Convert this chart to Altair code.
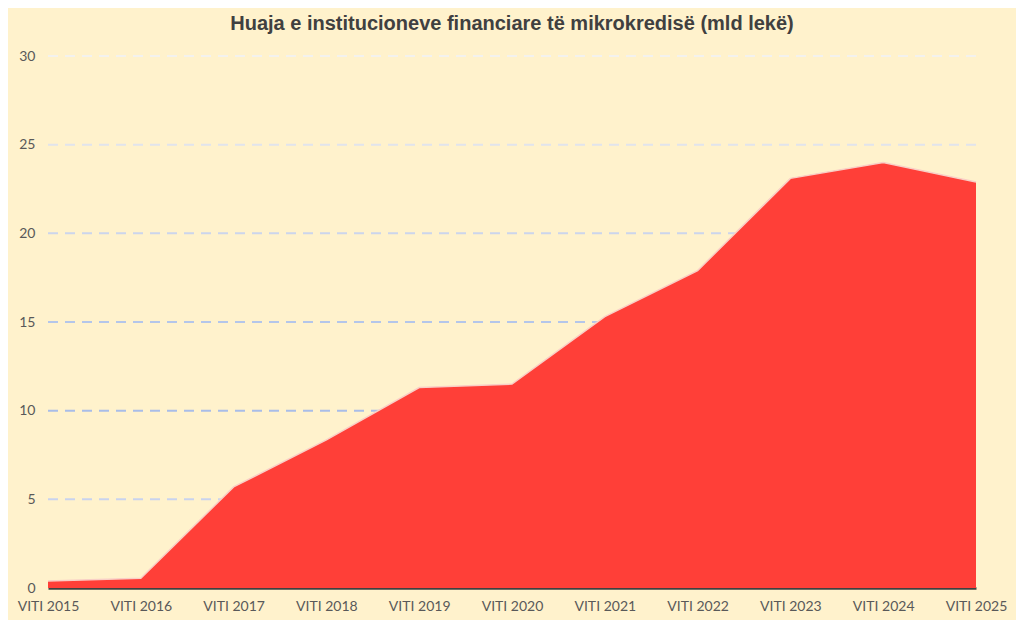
import altair as alt
import pandas as pd

years = ["VITI 2015", "VITI 2016", "VITI 2017", "VITI 2018", "VITI 2019", "VITI 2020",
         "VITI 2021", "VITI 2022", "VITI 2023", "VITI 2024", "VITI 2025"]
values = [0.4, 0.55, 5.7, 8.35, 11.3, 11.5, 15.3, 17.9, 23.1, 24.0, 22.9]

grid_values = [5, 10, 15, 20, 25, 30]
grid_colors = ["#C9D3EE", "#A9BDE8", "#B4C6EA", "#CCD5EC", "#E1E4EC", "#F3F2EE"]

title_text = "Huaja e institucioneve financiare të mikrokredisë (mld lekë)"

W, H = 928, 532

df = pd.DataFrame({"year": years, "value": values})
gdf = pd.DataFrame({"g": grid_values, "c": grid_colors})

xenc = alt.X("year:N", sort=years, scale=alt.Scale(type="point", padding=0),
             axis=alt.Axis(title=None, labelAngle=0, ticks=False, grid=False,
                           domain=True, domainColor="#404040", domainWidth=2.5,
                           labelPadding=11, labelFontSize=14, labelColor="#595959",
                           labelFont="Lato"))
yscale = alt.Scale(domain=[0, 30], nice=False)
yaxis = alt.Axis(title=None, values=[0, 5, 10, 15, 20, 25, 30], grid=False, ticks=False,
                 domain=False, labelPadding=13, labelFontSize=14, labelColor="#595959",
                 labelFont="Lato")

grid = alt.Chart(gdf).mark_rule(strokeDash=[10, 7], strokeWidth=2).encode(
    x=alt.value(0), x2=alt.value(W),
    y=alt.Y("g:Q", scale=yscale, axis=yaxis),
    color=alt.Color("c:N", scale=None),
)

area = alt.Chart(df).mark_area(color="#FF3F38", opacity=1).encode(
    x=xenc,
    y=alt.Y("value:Q", scale=yscale, axis=yaxis),
)

line = alt.Chart(df).mark_line(color="#F9CFC6", strokeWidth=1.5).encode(
    x=alt.X("year:N", sort=years, scale=alt.Scale(type="point", padding=0)),
    y=alt.Y("value:Q", scale=yscale),
)

chart = alt.layer(grid, area, line).properties(
    width=W, height=H,
    title=alt.TitleParams(title_text, font="Liberation Sans", fontSize=20, fontWeight="bold",
                          color="#404040", anchor="middle", offset=15),
    background="#FFF2CC",
    autosize=alt.AutoSizeParams(type="none"),
    padding={"left": 40, "top": 48, "right": 40, "bottom": 32},
).configure_view(stroke=None)

chart.save("out.html", embed_options={"renderer": "svg", "actions": False})
